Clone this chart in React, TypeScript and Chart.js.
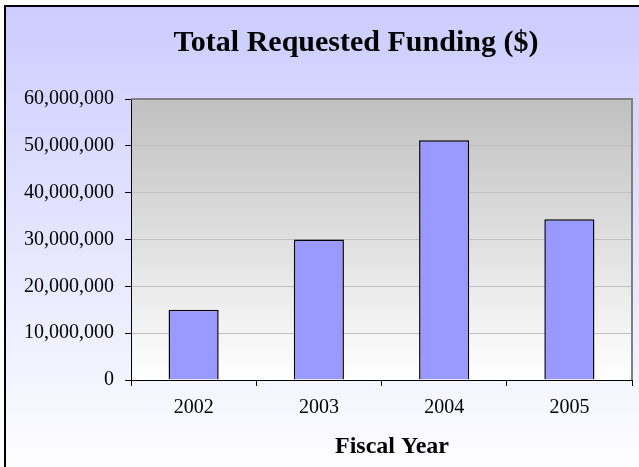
import { useEffect, useRef } from 'react';
import { Chart, registerables } from 'chart.js';

Chart.register(...registerables);

const categories = ['2002', '2003', '2004', '2005'];
const funding = [15000000, 30000000, 51200000, 34300000];
const yMin = 0;
const yMax = 60000000;
const yStep = 10000000;
const titleText = 'Total Requested Funding ($)';
const xAxisTitle = 'Fiscal Year';

const FONT = '"Liberation Serif", "Times New Roman", serif';

const decorPlugin = {
  id: 'decor',
  beforeDraw(chart: any) {
    const { ctx, width, height, chartArea } = chart;
    ctx.save();
    ctx.fillStyle = '#ffffff';
    ctx.fillRect(0, 0, width, height);
    const g = ctx.createLinearGradient(0, 6, 0, 485);
    g.addColorStop(0, '#CCCCFF');
    g.addColorStop(1, '#FFFFFF');
    ctx.fillStyle = g;
    ctx.fillRect(5, 6, width, height);
    const { left, top, right, bottom } = chartArea;
    const pg = ctx.createLinearGradient(0, top, 0, bottom);
    pg.addColorStop(0, '#C0C0C0');
    pg.addColorStop(1, '#FFFFFF');
    ctx.fillStyle = pg;
    ctx.fillRect(left, top, right - left, bottom - top);
    ctx.restore();
  },
  afterDraw(chart: any) {
    const { ctx, width, height, chartArea } = chart;
    const { left, top, right, bottom } = chartArea;
    ctx.save();
    ctx.strokeStyle = '#808080';
    ctx.lineWidth = 2;
    ctx.beginPath();
    ctx.moveTo(left, top);
    ctx.lineTo(right, top);
    ctx.lineTo(right, bottom);
    ctx.stroke();
    ctx.strokeStyle = '#000000';
    ctx.lineWidth = 2;
    ctx.strokeRect(5, 6, width + 20, height + 20);

    ctx.fillStyle = '#000000';
    ctx.textAlign = 'center';
    ctx.textBaseline = 'alphabetic';
    ctx.font = `bold 30px ${FONT}`;
    ctx.fillText(titleText, 356, 51);
    ctx.font = `bold 24px ${FONT}`;
    ctx.fillText(xAxisTitle, 392, 453);
    ctx.restore();
  },
};

export default function App() {
  const canvasRef = useRef<HTMLCanvasElement | null>(null);

  useEffect(() => {
    if (!canvasRef.current) return;
    const chart = new Chart(canvasRef.current, {
      type: 'bar',
      data: {
        labels: categories,
        datasets: [
          {
            data: funding,
            backgroundColor: '#9999FF',
            borderColor: '#000000',
            borderWidth: 1.5,
            barPercentage: 1,
            categoryPercentage: 0.4,
          },
        ],
      },
      options: {
        animation: false,
        responsive: false,
        devicePixelRatio: 1,
        layout: { padding: { left: 0, right: 7, top: 99, bottom: 0 } },
        plugins: {
          legend: { display: false },
          tooltip: { enabled: false },
          title: { display: false },
        },
        scales: {
          x: {
            grid: {
              drawOnChartArea: false,
              drawTicks: true,
              tickLength: 6,
              tickColor: '#000000',
              offset: true,
            },
            border: { color: '#000000', width: 1 },
            ticks: {
              color: '#000000',
              font: { family: FONT, size: 20 },
              padding: 10,
            },
            afterFit(scale: any) {
              scale.height = 87;
            },
          },
          y: {
            min: yMin,
            max: yMax,
            grid: {
              color: '#C0C0C0',
              tickColor: '#000000',
              tickLength: 6,
              drawTicks: true,
            },
            border: { color: '#000000', width: 1 },
            ticks: {
              stepSize: yStep,
              color: '#000000',
              font: { family: FONT, size: 20 },
              padding: 11,
              callback: (v: any) => Number(v).toLocaleString('en-US'),
            },
            afterFit(scale: any) {
              scale.width = 131;
            },
          },
        },
      },
      plugins: [decorPlugin],
    });
    return () => chart.destroy();
  }, []);

  return (
    <div style={{ position: 'fixed', left: 0, top: 0, width: 639, height: 467 }}>
      <canvas ref={canvasRef} width={639} height={467} style={{ display: 'block' }} />
    </div>
  );
}
